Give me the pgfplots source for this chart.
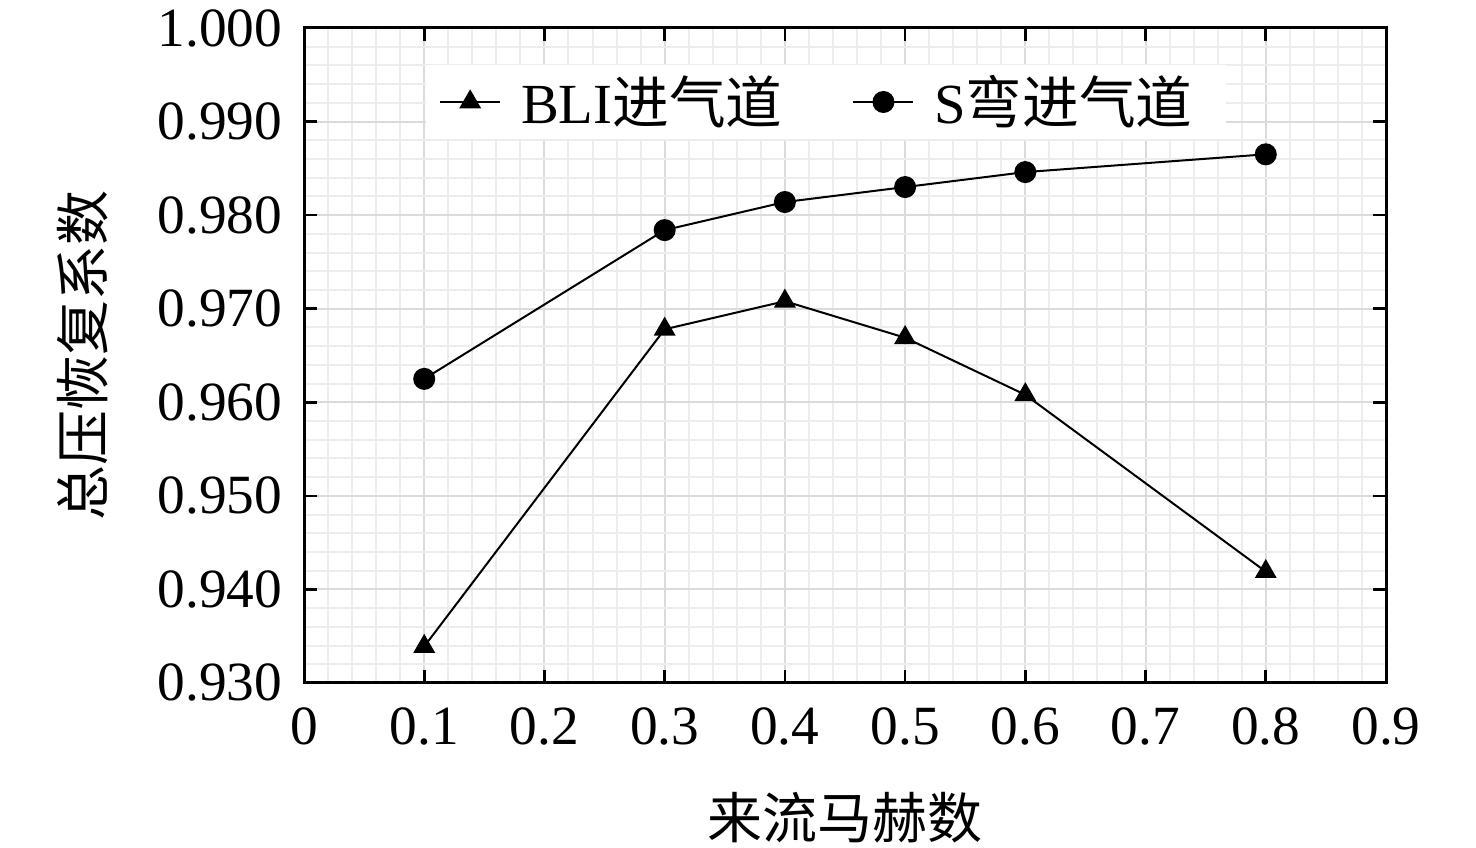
\documentclass[border=0pt]{standalone}
\usepackage{pgfplots}
\pgfplotsset{compat=1.18}
\usepackage{fontspec}
\setmainfont{Liberation Serif}
\newfontfamily\cjk{Noto Sans CJK SC}
\usetikzlibrary{calc}
\begin{document}
\begin{tikzpicture}
\begin{axis}[
  name=ax,
  scale only axis,
  width=324.6pt, height=196.5pt,
  xmin=0, xmax=0.9, ymin=0.93, ymax=1.0,
  xtick={0,0.1,...,0.9},
  ytick={0.93,0.94,...,1.0},
  minor x tick num=4, minor y tick num=4,
  grid=both,
  major grid style={line width=0.6pt, color=black!14},
  minor grid style={line width=0.6pt, color=black!7},
  tick align=inside,
  major tick length=4pt, minor tick length=0pt,
  tick style={black, line width=0.8pt},
  axis line style={line width=0.9pt},
  every axis plot/.append style={line width=0.6pt},
  /pgf/number format/assume math mode=true,
  ticklabel style={font=\fontsize{16.6}{18}\selectfont},
  yticklabel style={xshift=-3pt, /pgf/number format/.cd, fixed, fixed zerofill, precision=3},
  xticklabel style={yshift=-4pt, /pgf/number format/.cd, fixed, precision=1},
  xlabel={\cjk 来流马赫数},
  ylabel={\cjk 总压恢复系数},
  label style={font=\fontsize{16.5}{18}\selectfont},
  xlabel style={yshift=-7pt},
  ylabel style={yshift=8pt},
  legend columns=2,
  legend style={at={(0.112,0.944)}, anchor=north west, draw=none, fill=white,
    font=\fontsize{17}{18}\selectfont,
    /tikz/every even column/.append style={column sep=15pt},
    nodes={inner xsep=6pt},
    inner xsep=4pt, inner ysep=1pt},
  legend image code/.code={
    \draw[#1] (0pt,0pt) -- (18pt,0pt);
    \draw[#1, mark repeat=2, mark phase=2] plot coordinates {(0pt,0pt) (9pt,0pt) (18pt,0pt)};
  },
]
\addplot[black, mark=triangle*, mark size=3.2pt, mark options={solid, fill=black}] coordinates {
(0.1,0.9339) (0.3,0.9678) (0.4,0.9708) (0.5,0.9669) (0.6,0.9608) (0.8,0.9419)};
\addlegendentry{BLI{\cjk 进气道}}
\addplot[black, mark=*, mark size=3pt, mark options={solid, fill=black}] coordinates {
(0.1,0.9625) (0.3,0.9784) (0.4,0.9814) (0.5,0.9830) (0.6,0.9846) (0.8,0.9865)};
\addlegendentry{S{\cjk 弯进气道}}
\end{axis}
\pgfresetboundingbox
\path[use as bounding box] ($(ax.south west)+(-91.2pt,-49.5pt)$) rectangle ($(ax.north east)+(27pt,8.4pt)$);
\end{tikzpicture}
\end{document}
